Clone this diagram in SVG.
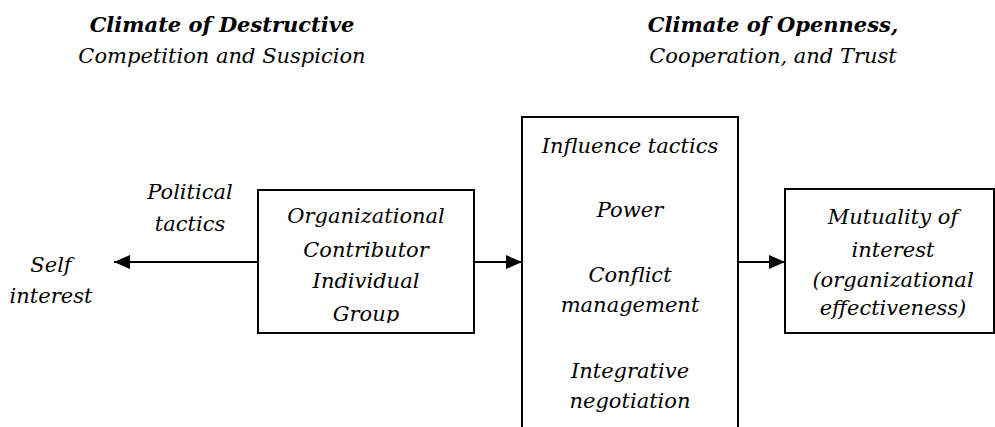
<svg xmlns="http://www.w3.org/2000/svg" width="995" height="427" viewBox="0 0 995 427">
<style>
text{font-family:"DejaVu Serif","Liberation Serif",serif;font-style:italic;font-size:21px;fill:#000;text-anchor:middle}
.h{font-weight:bold}
.box{fill:#fff;stroke:#000;stroke-width:2}
.conn{stroke:#000;stroke-width:2;fill:none}
</style>
<defs>
<marker id="ah" viewBox="0 0 16 14" refX="16" refY="7" markerWidth="16" markerHeight="14" markerUnits="userSpaceOnUse" orient="auto">
<path d="M0,0 L16,7 L0,14 Z" fill="#000"/>
</marker>
<clipPath id="clipL"><rect x="259" y="191" width="214" height="132"/></clipPath>
</defs>
<rect width="995" height="427" fill="#fff"/>
<g id="heading-left">
<text class="h" x="222" y="32">Climate of Destructive</text>
<text x="222" y="63">Competition and Suspicion</text>
</g>
<g id="heading-right">
<text class="h" x="773" y="32">Climate of Openness,</text>
<text x="773" y="63">Cooperation, and Trust</text>
</g>
<g id="self-interest">
<text x="51" y="272">Self</text>
<text x="51" y="303">interest</text>
</g>
<g id="political-tactics">
<text x="190" y="199">Political</text>
<text x="190" y="231">tactics</text>
</g>
<g id="contributor">
<rect class="box" x="258" y="190" width="216" height="143"/>
<g clip-path="url(#clipL)">
<text x="366" y="223">Organizational</text>
<text x="366" y="257">Contributor</text>
<text x="366" y="288">Individual</text>
<text x="366" y="321">Group</text>
</g>
</g>
<g id="processes">
<rect class="box" x="522" y="117" width="216" height="320"/>
<text x="630" y="153">Influence tactics</text>
<text x="630" y="217">Power</text>
<text x="630" y="282">Conflict</text>
<text x="630" y="312">management</text>
<text x="630" y="378">Integrative</text>
<text x="630" y="408">negotiation</text>
</g>
<g id="mutuality">
<rect class="box" x="785" y="189" width="209" height="144"/>
<text x="893" y="224">Mutuality of</text>
<text x="893" y="257">interest</text>
<text x="893" y="287">(organizational</text>
<text x="893" y="315">effectiveness)</text>
</g>
<g id="connectors">
<line class="conn" x1="258" y1="262" x2="114" y2="262" marker-end="url(#ah)"/>
<line class="conn" x1="474" y1="262" x2="522" y2="262" marker-end="url(#ah)"/>
<line class="conn" x1="738" y1="262" x2="785" y2="262" marker-end="url(#ah)"/>
</g>
</svg>
